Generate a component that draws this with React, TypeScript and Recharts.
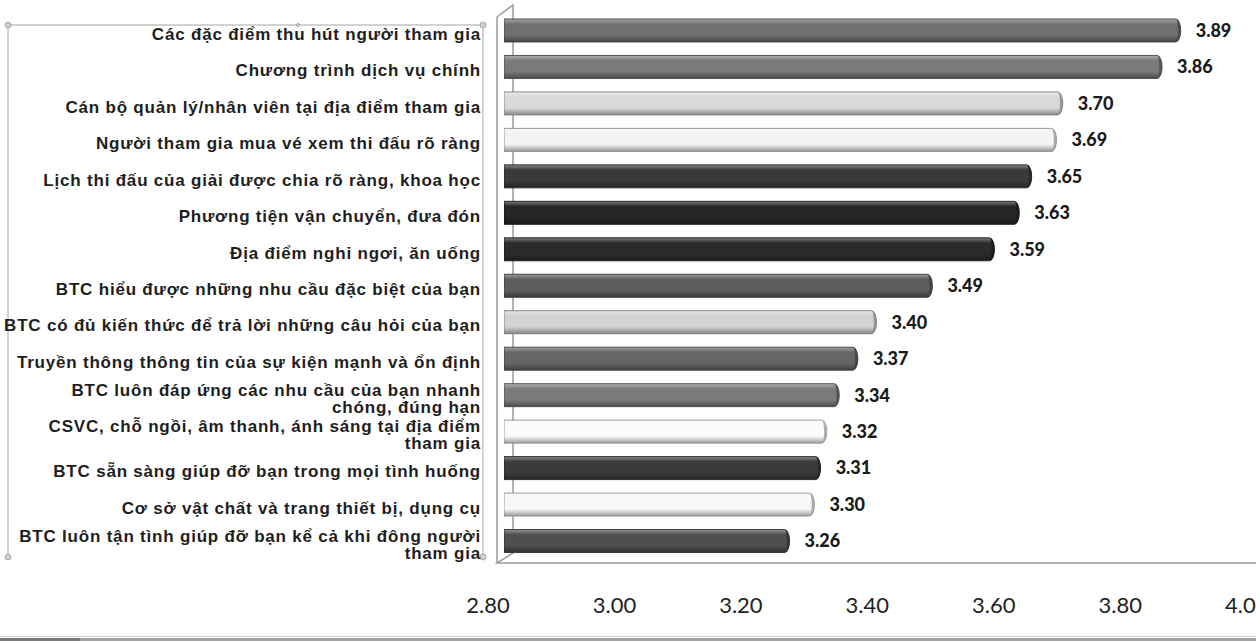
import { Bar, BarChart, Cell, LabelList, XAxis, YAxis } from 'recharts'

// Mức độ hài lòng trung bình theo từng tiêu chí
const criteria = [
  'Các đặc điểm thu hút người tham gia',
  'Chương trình dịch vụ chính',
  'Cán bộ quản lý/nhân viên tại địa điểm tham gia',
  'Người tham gia mua vé xem thi đấu rõ ràng',
  'Lịch thi đấu của giải được chia rõ ràng, khoa học',
  'Phương tiện vận chuyển, đưa đón',
  'Địa điểm nghỉ ngơi, ăn uống',
  'BTC hiểu được những nhu cầu đặc biệt của bạn',
  'BTC có đủ kiến thức để trả lời những câu hỏi của bạn',
  'Truyền thông thông tin của sự kiện mạnh và ổn định',
  'BTC luôn đáp ứng các nhu cầu của bạn nhanh\nchóng, đúng hạn',
  'CSVC, chỗ ngồi, âm thanh, ánh sáng tại địa điểm\ntham gia',
  'BTC sẵn sàng giúp đỡ bạn trong mọi tình huống',
  'Cơ sở vật chất và trang thiết bị, dụng cụ',
  'BTC luôn tận tình giúp đỡ bạn kể cả khi đông người\ntham gia',
]

const scores = [3.89, 3.86, 3.7, 3.69, 3.65, 3.63, 3.59, 3.49, 3.4, 3.37, 3.34, 3.32, 3.31, 3.3, 3.26]

const xTicks = [2.8, 3.0, 3.2, 3.4, 3.6, 3.8, 4.0]

const barColors = [
  '#707070', '#7a7a7a', '#d9d9d9', '#f3f3f3', '#3a3a3a',
  '#262626', '#2b2b2b', '#5e5e5e', '#d3d3d3', '#666666',
  '#7b7b7b', '#fbfbfb', '#3b3b3b', '#f7f7f7', '#4f4f4f',
]

const data = criteria.map((name, i) => ({ name, value: scores[i] }))

function mix(hex: string, target: number, amt: number) {
  const n = parseInt(hex.slice(1), 16)
  const ch = [(n >> 16) & 255, (n >> 8) & 255, n & 255].map((c) => Math.round(c + (target - c) * amt))
  return `rgb(${ch[0]},${ch[1]},${ch[2]})`
}

// thanh dạng trụ tròn, đầu phải bo elip
function Cylinder(props: any) {
  const { x, y, width, height, index } = props
  if (!width || width <= 0) return null
  const base = barColors[index] ?? '#888888'
  const r = 5
  const w = Math.max(width, r)
  const ex = x + w - r
  const body = `M${x},${y} H${ex} A${r},${height / 2} 0 0 1 ${ex},${y + height} H${x} Z`
  const cap = `M${ex},${y} A${r},${height / 2} 0 0 1 ${ex},${y + height} A${r * 0.45},${height / 2} 0 0 0 ${ex},${y} Z`
  return (
    <g>
      <path d={body} fill={`url(#cyl-${index})`} stroke={mix(base, 0, 0.42)} strokeWidth={0.9} />
      <path d={cap} fill={mix(base, 0, 0.35)} opacity={0.85} />
    </g>
  )
}

function CategoryTick(props: any) {
  const { y, payload } = props
  const lines = String(payload.value).split('\n')
  const style = {
    fontFamily: '"Liberation Sans", Arial, sans-serif',
    fontWeight: 700,
    fontSize: 17,
    letterSpacing: 0.8,
    fill: '#1e1e1e',
  }
  if (lines.length === 1) {
    return (
      <text x={481} y={y + 4} textAnchor="end" dominantBaseline="central" style={style}>
        {lines[0]}
      </text>
    )
  }
  return (
    <text x={481} y={y - 5} textAnchor="end" dominantBaseline="central" style={style}>
      {lines.map((line, i) => (
        <tspan key={i} x={481} dy={i === 0 ? 0 : 17}>
          {line}
        </tspan>
      ))}
    </text>
  )
}

// nhãn trục ngang nằm ở mặt trước của khung 3D nên lệch nhẹ so với thanh
function ValueTick(props: any) {
  const { x, y, payload } = props
  const v = Number(payload.value)
  const cx = x - 16 + (v - 2.8) * 11.4
  return (
    <text x={cx} y={y + 37} textAnchor="middle" dominantBaseline="central"
      style={{ fontFamily: 'Lato, "Open Sans", sans-serif', fontSize: 22, fill: '#222222' }}>
      {v.toFixed(2)}
    </text>
  )
}

function Frame() {
  const line = { stroke: '#9a9a9a', strokeWidth: 1.5, fill: 'none' }
  const box = { stroke: '#c4c4c4', strokeWidth: 1.5, fill: 'none' }
  const handle = { fill: '#d0d0d0', stroke: '#a8a8a8', strokeWidth: 1 }
  return (
    <svg width={1256} height={641} style={{ position: 'absolute', left: 0, top: 0 }}>
      {/* khung hộp nhãn */}
      <path d="M8,557 V25 H483 V557" {...box} />
      <circle cx={8} cy={25} r={3} {...handle} />
      <circle cx={483} cy={25} r={3} {...handle} />
      <circle cx={8} cy={557} r={3} {...handle} />
      <circle cx={483} cy={557} r={3} {...handle} />
      <circle cx={298} cy={25} r={1.5} {...handle} />
      {/* tường và sàn 3D */}
      <path d="M497,563 V17 L513,5 V553 L497,563 H1256" {...line} />
      {/* viền dưới */}
      <rect x={0} y={636} width={1256} height={1} fill="#cfcfcf" />
      <rect x={0} y={638} width={1256} height={3} fill="#a3a3a3" />
      <rect x={0} y={638} width={80} height={3} fill="#7a7a7a" />
    </svg>
  )
}

export default function App() {
  return (
    <div style={{ position: 'absolute', left: 0, top: 0, width: 1256, height: 641, background: '#ffffff', overflow: 'hidden' }}>
      <Frame />
      <div style={{ position: 'absolute', left: 0, top: 0 }}>
        <BarChart width={1256} height={641} data={data} layout="vertical"
          margin={{ top: 12, right: 7, bottom: 52, left: 0 }} barCategoryGap={0}>
          <defs>
            {barColors.map((c, i) => (
              <linearGradient key={i} id={`cyl-${i}`} x1="0" y1="0" x2="0" y2="1">
                <stop offset="0%" stopColor={mix(c, 255, 0.4)} />
                <stop offset="22%" stopColor={c} />
                <stop offset="70%" stopColor={c} />
                <stop offset="100%" stopColor={mix(c, 0, 0.38)} />
              </linearGradient>
            ))}
          </defs>
          <XAxis type="number" dataKey="value" domain={[2.8, 4.0]} ticks={xTicks} interval={0}
            height={30} axisLine={false} tickLine={false} tick={<ValueTick />} allowDataOverflow />
          <YAxis type="category" dataKey="name" width={504} axisLine={false} tickLine={false}
            interval={0} tick={<CategoryTick />} />
          <Bar dataKey="value" barSize={23} shape={<Cylinder />} isAnimationActive={false}>
            {data.map((_, i) => (
              <Cell key={i} fill={barColors[i]} />
            ))}
            <LabelList dataKey="value" position="right" offset={15}
              formatter={(v: any) => Number(v).toFixed(2)}
              style={{ fontFamily: 'Lato, "Open Sans", sans-serif', fontWeight: 900, fontSize: 18, fill: '#1a1a1a' }} />
          </Bar>
        </BarChart>
      </div>
    </div>
  )
}
